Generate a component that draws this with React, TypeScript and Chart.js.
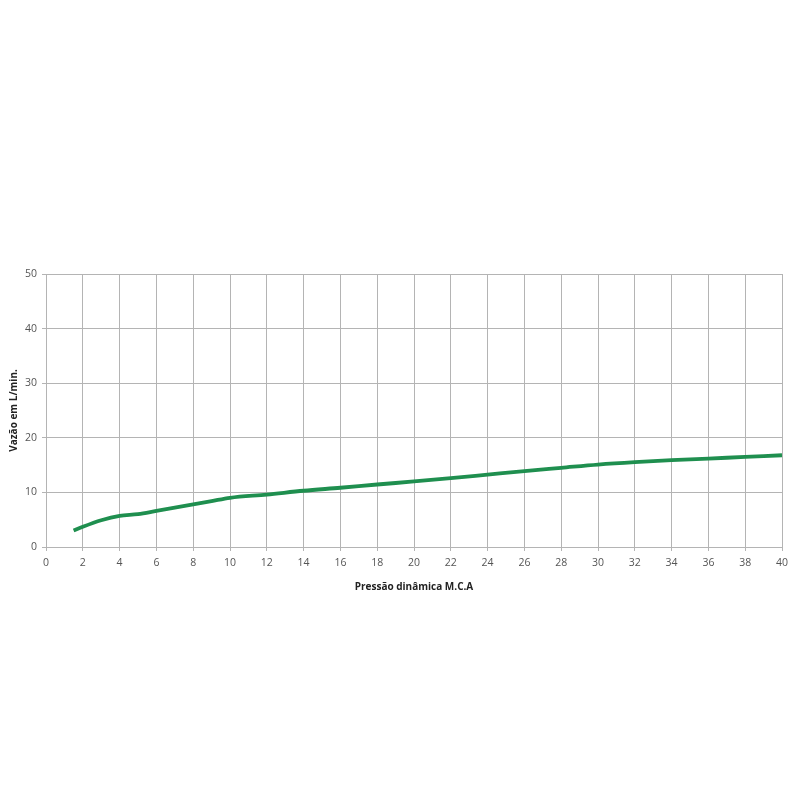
import React, { useEffect, useRef } from "react";
import { Chart, registerables } from "chart.js";

Chart.register(...registerables);

const pressure = [1.5, 2, 3, 4, 5, 6, 7, 8, 9, 10, 12, 14, 16, 18, 20, 22, 24, 26, 28, 30, 32, 34, 36, 38, 40];
const flow = [3.0, 3.7, 4.9, 5.7, 6.0, 6.6, 7.2, 7.8, 8.4, 9.0, 9.6, 10.3, 10.85, 11.45, 12.0, 12.6, 13.25, 13.9, 14.5, 15.1, 15.55, 15.9, 16.2, 16.5, 16.8];
const xTitle = "Pressão dinâmica M.C.A";
const yTitle = "Vazão em L/min.";

export default function App() {
  const ref = useRef<HTMLCanvasElement>(null);
  useEffect(() => {
    if (!ref.current) return;
    const font = { family: "'Open Sans', 'Liberation Sans', sans-serif", size: 10.5 };
    const chart = new Chart(ref.current, {
      type: "scatter",
      data: {
        datasets: [
          {
            data: pressure.map((x, i) => ({ x, y: flow[i] })),
            showLine: true,
            borderColor: "#1f8f4f",
            backgroundColor: "#1f8f4f",
            borderWidth: 3.8,
            pointRadius: 0,
            tension: 0.3,
            cubicInterpolationMode: "monotone",
          },
        ],
      },
      options: {
        animation: false,
        responsive: false,
        maintainAspectRatio: false,
        layout: { padding: { top: 274, right: 18, bottom: 203, left: 0 } },
        plugins: { legend: { display: false }, tooltip: { enabled: false } },
        scales: {
          x: {
            type: "linear",
            min: 0,
            max: 40,
            ticks: { stepSize: 2, color: "#555", font, padding: 6 },
            grid: { color: "#b4b4b4", lineWidth: 1, tickLength: 4, drawTicks: true },
            border: { color: "#b4b4b4" },
            title: { display: true, text: xTitle, color: "#222", font: { ...font, size: 10, weight: "bold" }, padding: { top: 10 } },
            afterFit: (s: any) => { s.height = 50; },
          },
          y: {
            min: 0,
            max: 50,
            ticks: { stepSize: 10, color: "#555", font, padding: 5 },
            grid: { color: "#b4b4b4", lineWidth: 1, tickLength: 4 },
            border: { color: "#b4b4b4" },
            title: { display: true, text: yTitle, color: "#222", font: { ...font, size: 10, weight: "bold" }, padding: { top: 8, bottom: 6 } },
            afterFit: (s: any) => { s.width = 46; },
          },
        },
      },
    });
    return () => chart.destroy();
  }, []);
  return (
    <div style={{ position: "fixed", left: 0, top: 0, width: 800, height: 800, background: "#fff" }}>
      <canvas ref={ref} width={800} height={800} style={{ width: 800, height: 800 }} />
    </div>
  );
}
